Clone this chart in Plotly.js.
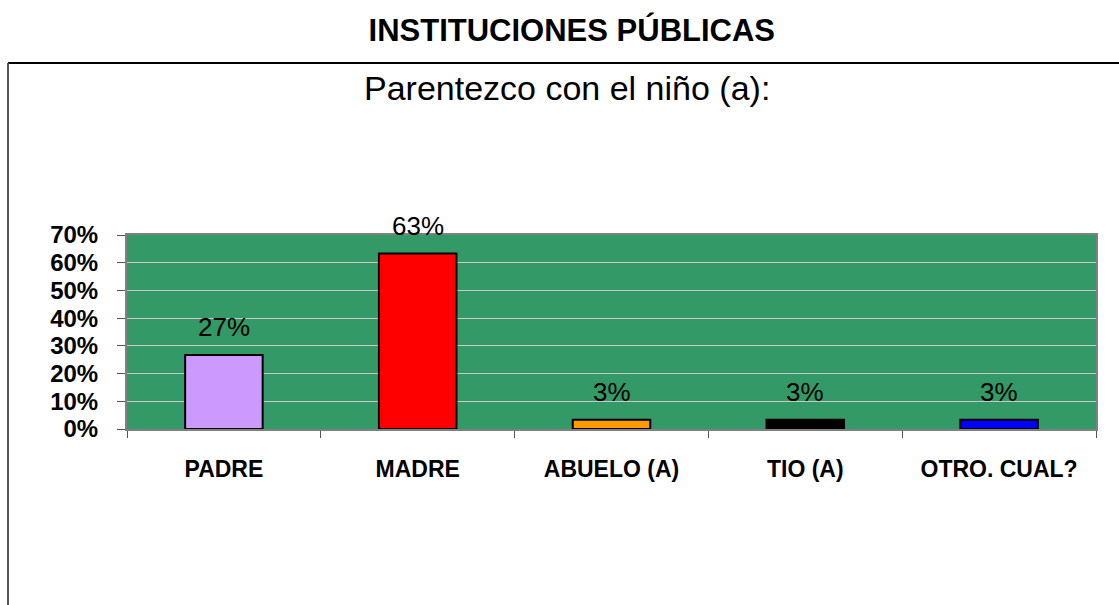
<!DOCTYPE html>
<html>
<head>
<meta charset="utf-8">
<script src="https://cdn.plot.ly/plotly-3.0.1.min.js"></script>
<style>html,body{margin:0;padding:0;background:#fff;}#chart{width:1119px;height:605px;}</style>
</head>
<body>
<div id="chart"></div>
<script>
const categories = ["PADRE", "MADRE", "ABUELO (A)", "TIO (A)", "OTRO. CUAL?"];
const shares = [0.267, 0.633, 0.033, 0.033, 0.033];
const barColors = ["#cc99ff", "#ff0000", "#ff9900", "#000000", "#0000ff"];
const pageTitle = "INSTITUCIONES PÚBLICAS";
const chartTitle = "Parentezco con el niño (a):";

const FONT = "Liberation Sans, Arial, sans-serif";

const trace = {
  type: "bar",
  x: categories,
  y: shares,
  width: 0.4,
  marker: { color: barColors, line: { color: "#000000", width: 2 } },
  hoverinfo: "skip"
};

const labelAnnotations = categories.map((c, i) => ({
  x: c, y: shares[i], xref: "x", yref: "y",
  text: Math.round(shares[i] * 100) + "%",
  showarrow: false, yanchor: "bottom", yshift: 11,
  font: { family: FONT, size: 26, color: "#000" }
}));

const layout = {
  width: 1119, height: 605,
  margin: { l: 127, r: 23, t: 235, b: 176 },
  paper_bgcolor: "#ffffff",
  plot_bgcolor: "#339966",
  showlegend: false,
  title: {
    text: "<b>" + pageTitle + "</b>",
    xref: "container", yref: "container",
    x: 0.511, y: 0.95, xanchor: "center", yanchor: "middle",
    font: { family: FONT, size: 31, color: "#000" }
  },
  xaxis: {
    type: "category",
    showgrid: false,
    showline: true, linecolor: "#808080", linewidth: 2, mirror: true,
    ticks: "outside", tickson: "boundaries", ticklen: 7, tickcolor: "#555", tickwidth: 1,
    ticklabelstandoff: 18,
    tickfont: { family: FONT, size: 23, color: "#000", weight: "bold" },
    fixedrange: true
  },
  yaxis: {
    range: [0, 0.7], dtick: 0.1, tickformat: ".0%",
    showgrid: true, gridcolor: "#c8c8c8", gridwidth: 1,
    zeroline: false,
    showline: true, linecolor: "#808080", linewidth: 2, mirror: true,
    ticks: "outside", ticklen: 8, tickcolor: "#555", tickwidth: 1,
    ticklabelstandoff: 14,
    tickfont: { family: FONT, size: 24, color: "#000", weight: "bold" },
    fixedrange: true
  },
  annotations: [
    {
      text: chartTitle, xref: "paper", yref: "paper",
      x: 0.454, y: 1.758, xanchor: "center", yanchor: "middle",
      showarrow: false,
      font: { family: FONT, size: 34, color: "#000" }
    }
  ].concat(labelAnnotations),
  shapes: [
    { type: "line", xref: "paper", yref: "paper", x0: -0.1228, x1: 1.05, y0: 1.887, y1: 1.887,
      line: { color: "#000", width: 2 } },
    { type: "line", xref: "paper", yref: "paper", x0: -0.1228, x1: -0.1228, y0: 1.887, y1: -1.0,
      line: { color: "#555", width: 2 } }
  ]
};

Plotly.newPlot("chart", [trace], layout, { displayModeBar: false, staticPlot: true });
</script>
</body>
</html>
